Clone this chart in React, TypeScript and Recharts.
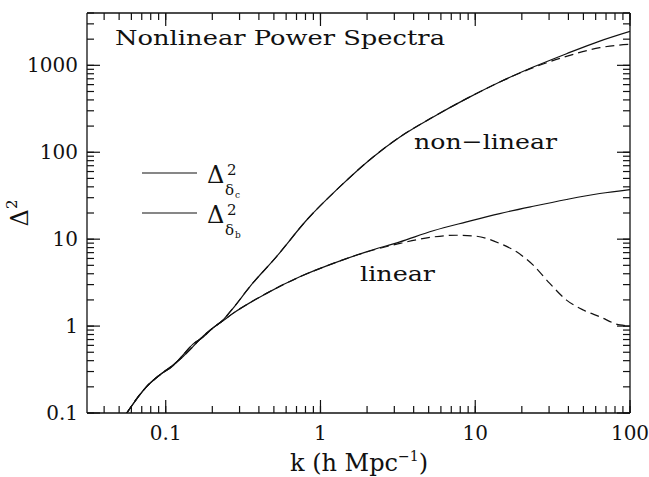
import { Line, LineChart, XAxis, YAxis } from "recharts";

const FONT = "'DejaVu Serif', 'Liberation Serif', serif";
const INK = "#111";

// wavenumber k (h/Mpc) and Δ²
const linearCdmK = [0.056, 0.075, 0.0915, 0.1115, 0.13, 0.15, 0.175, 0.2, 0.234, 0.272, 0.448, 0.735, 1.21, 1.98, 3.26, 5.35, 8.79, 14.4, 23.7, 38.9, 63.8, 100];
const linearCdm = [0.1, 0.2, 0.274, 0.357, 0.45, 0.58, 0.77, 0.94, 1.15, 1.4, 2.38, 3.69, 5.26, 7.15, 9.31, 12.5, 15.8, 19.7, 23.9, 28.6, 33.5, 37.2];

const linearBaryonK = [0.056, 0.075, 0.0915, 0.1115, 0.13, 0.15, 0.175, 0.2, 0.234, 0.272, 0.448, 0.735, 1.21, 1.98, 3.26, 5.35, 7.57, 10.2, 14.4, 18.5, 23.7, 30.3, 38.9, 49.9, 63.8, 86.1, 100];
const linearBaryon = [0.1, 0.2, 0.274, 0.357, 0.45, 0.58, 0.77, 0.94, 1.15, 1.4, 2.38, 3.69, 5.26, 7.1, 8.93, 10.6, 11.1, 10.8, 8.93, 7.15, 5.02, 3.1, 1.99, 1.53, 1.28, 1.03, 1.01];

const nonlinCdmK = [0.056, 0.075, 0.0915, 0.1115, 0.13, 0.15, 0.175, 0.2, 0.234, 0.272, 0.349, 0.52, 0.812, 1.33, 2.19, 3.26, 5.35, 8.79, 14.4, 23.7, 38.9, 63.8, 100];
const nonlinCdm = [0.1, 0.2, 0.274, 0.35, 0.47, 0.62, 0.75, 0.94, 1.17, 1.6, 2.83, 6.3, 16.5, 39.9, 88.3, 150, 255, 414, 643, 955, 1361, 1901, 2460];

const nonlinBaryonK = [0.056, 0.075, 0.0915, 0.1115, 0.13, 0.15, 0.175, 0.2, 0.234, 0.272, 0.349, 0.52, 0.812, 1.33, 2.19, 3.26, 5.35, 8.79, 14.4, 23.7, 38.9, 63.8, 81.9, 100];
const nonlinBaryon = [0.1, 0.2, 0.274, 0.35, 0.47, 0.62, 0.75, 0.94, 1.17, 1.6, 2.83, 6.3, 16.5, 39.9, 88.3, 150, 255, 414, 643, 940, 1268, 1596, 1698, 1743];

// log axes: ticks at 1..9 x each decade
const decades = [0.01, 0.1, 1, 10, 100, 1000];
const mantissas = [1, 2, 3, 4, 5, 6, 7, 8, 9];
const X_DOMAIN: [number, number] = [0.031, 100];
const Y_DOMAIN: [number, number] = [0.1, 4000];

const logTicks = ([lo, hi]: [number, number]) =>
  decades
    .flatMap((d) => mantissas.map((m) => Number((d * m).toPrecision(3))))
    .filter((v) => v >= lo && v <= hi);

const xTicks = logTicks(X_DOMAIN);
const yTicks = logTicks(Y_DOMAIN);

const toPoints = (ks: number[], vs: number[]) => ks.map((k, i) => ({ k, v: vs[i] }));

const isDecade = (v: number) => {
  const l = Math.log10(v);
  return Math.abs(l - Math.round(l)) < 1e-6;
};

const MAJOR = 13;
// negative tickSize makes recharts draw its own tick lines into the plot (minor length)
const TICK_SIZE = -7;
const TICK_MARGIN = 0;
const OFF = TICK_SIZE + TICK_MARGIN;

// decade marks get extended to full length, plus the labels
function FrameTick(props: any) {
  const { x, y, payload, tag } = props;
  const value = Number(payload?.value);
  if (!isDecade(value)) return <g />;

  if (tag === "b") {
    const y0 = y - OFF;
    return (
      <g>
        <path d={`M${x},${y0}L${x},${y0 - MAJOR}`} stroke={INK} strokeWidth={1.2} fill="none" />
        <text x={x} y={y0 + 27} textAnchor="middle" fontSize={20} fontFamily={FONT} fill={INK}>
          {String(value)}
        </text>
      </g>
    );
  }
  if (tag === "t") {
    const y0 = y + OFF;
    return <path d={`M${x},${y0}L${x},${y0 + MAJOR}`} stroke={INK} strokeWidth={1.2} fill="none" />;
  }
  if (tag === "l") {
    const x0 = x + OFF;
    return (
      <g>
        <path d={`M${x0},${y}L${x0 + MAJOR},${y}`} stroke={INK} strokeWidth={1.2} fill="none" />
        <text x={x0 - 9} y={y + 7} textAnchor="end" fontSize={20} fontFamily={FONT} fill={INK}>
          {String(value)}
        </text>
      </g>
    );
  }
  const x0 = x - OFF;
  return <path d={`M${x0},${y}L${x0 - MAJOR},${y}`} stroke={INK} strokeWidth={1.2} fill="none" />;
}

const axisLine = { stroke: INK, strokeWidth: 1.3 };
const tickLine = { stroke: INK, strokeWidth: 1.2 };

function LegendEntry({ y, sub }: { y: number; sub: string }) {
  return (
    <g fontFamily={FONT} fill={INK}>
      <line x1={142} x2={197} y1={y} y2={y} stroke={INK} strokeWidth={1.1} />
      <text x={207} y={y + 10} fontSize={24}>Δ</text>
      <text x={227} y={y + 2} fontSize={15}>2</text>
      <text x={225} y={y + 22} fontSize={15}>δ</text>
      <text x={235} y={y + 25} fontSize={9}>{sub}</text>
    </g>
  );
}

export default function App() {
  const series = [
    { id: "lin-c", data: toPoints(linearCdmK, linearCdm), dash: undefined },
    { id: "lin-b", data: toPoints(linearBaryonK, linearBaryon), dash: "9 5" },
    { id: "nl-c", data: toPoints(nonlinCdmK, nonlinCdm), dash: undefined },
    { id: "nl-b", data: toPoints(nonlinBaryonK, nonlinBaryon), dash: "9 5" },
  ];

  return (
    <div style={{ position: "absolute", left: 0, top: 0, width: 649, height: 477, background: "#fff" }}>
      <LineChart width={649} height={477} margin={{ top: 0, right: 0, bottom: 0, left: 0 }}>
        <XAxis
          xAxisId="b"
          type="number"
          scale="log"
          dataKey="k"
          domain={X_DOMAIN}
          allowDataOverflow
          ticks={xTicks}
          interval={0}
          tickLine={tickLine}
          tickSize={TICK_SIZE}
          tickMargin={TICK_MARGIN}
          axisLine={axisLine}
          tick={<FrameTick tag="b" />}
          height={64}
        />
        <XAxis
          xAxisId="t"
          orientation="top"
          type="number"
          scale="log"
          dataKey="k"
          domain={X_DOMAIN}
          allowDataOverflow
          ticks={xTicks}
          interval={0}
          tickLine={tickLine}
          tickSize={TICK_SIZE}
          tickMargin={TICK_MARGIN}
          axisLine={axisLine}
          tick={<FrameTick tag="t" />}
          height={13}
        />
        <YAxis
          yAxisId="l"
          type="number"
          scale="log"
          dataKey="v"
          domain={Y_DOMAIN}
          allowDataOverflow
          ticks={yTicks}
          interval={0}
          tickLine={tickLine}
          tickSize={TICK_SIZE}
          tickMargin={TICK_MARGIN}
          axisLine={axisLine}
          tick={<FrameTick tag="l" />}
          width={87}
        />
        <YAxis
          yAxisId="r"
          orientation="right"
          type="number"
          scale="log"
          dataKey="v"
          domain={Y_DOMAIN}
          allowDataOverflow
          ticks={yTicks}
          interval={0}
          tickLine={tickLine}
          tickSize={TICK_SIZE}
          tickMargin={TICK_MARGIN}
          axisLine={axisLine}
          tick={<FrameTick tag="r" />}
          width={19}
        />
        {series.map((s) => (
          <Line
            key={s.id}
            xAxisId="b"
            yAxisId="l"
            data={s.data}
            dataKey="v"
            type="monotone"
            stroke={INK}
            strokeWidth={1.2}
            strokeDasharray={s.dash}
            dot={false}
            isAnimationActive={false}
          />
        ))}
      </LineChart>

      <svg
        width={649}
        height={477}
        style={{ position: "absolute", left: 0, top: 0, pointerEvents: "none" }}
      >
        <g fontFamily={FONT} fill={INK}>
          <text x={115} y={45} fontSize={21} textLength={330} lengthAdjust="spacingAndGlyphs">
            Nonlinear Power Spectra
          </text>
          <text x={414} y={149} fontSize={21} textLength={143} lengthAdjust="spacingAndGlyphs">
            non−linear
          </text>
          <text x={360} y={281} fontSize={21} textLength={75} lengthAdjust="spacingAndGlyphs">
            linear
          </text>
          <text x={359} y={471} fontSize={24} textAnchor="middle">
            k (h Mpc<tspan fontSize={14} dy={-10}>−1</tspan>
            <tspan dy={10}>)</tspan>
          </text>
          <text transform="translate(28,213) rotate(-90)" textAnchor="middle" fontSize={24}>
            Δ<tspan fontSize={15} dy={-11}>2</tspan>
          </text>
        </g>
        <LegendEntry y={173} sub="c" />
        <LegendEntry y={213} sub="b" />
      </svg>
    </div>
  );
}
